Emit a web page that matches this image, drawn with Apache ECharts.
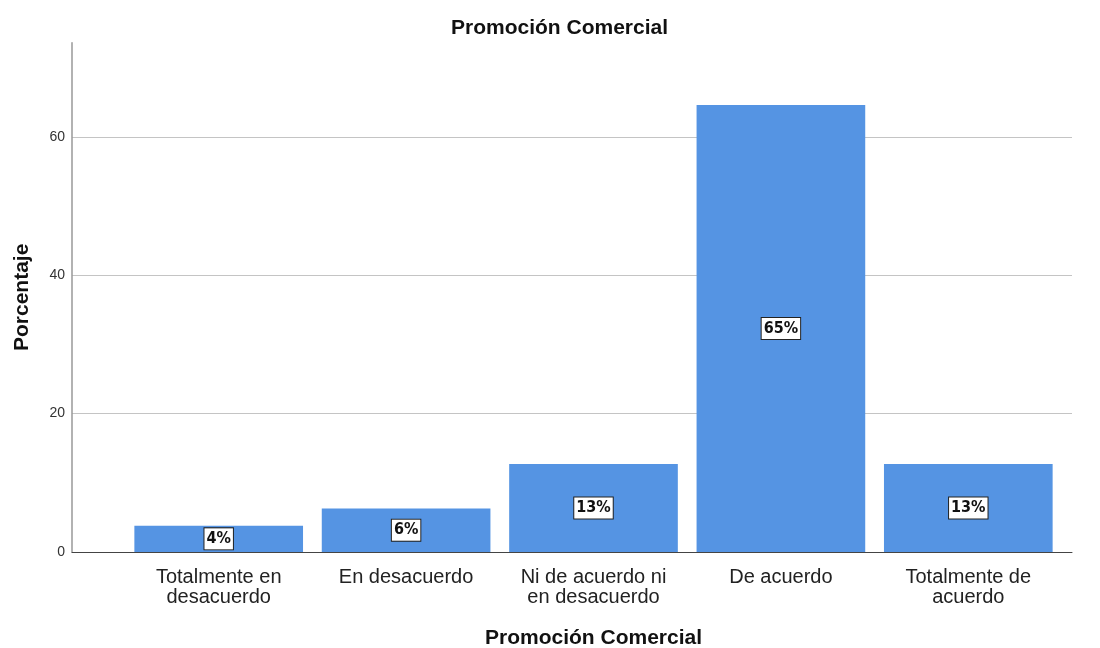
<!DOCTYPE html>
<html><head><meta charset="utf-8">
<script src="https://cdn.jsdelivr.net/npm/echarts@6/dist/echarts.min.js"></script>
<style>html,body{margin:0;padding:0;background:#fff}#c{width:1100px;height:648px}</style>
</head><body><div id="c"></div>
<script>
const categories = ['Totalmente en\ndesacuerdo', 'En desacuerdo', 'Ni de acuerdo ni\nen desacuerdo', 'De acuerdo', 'Totalmente de\nacuerdo'];
const values = [3.8, 6.3, 12.7, 64.6, 12.7];
const labels = ['4%', '6%', '13%', '65%', '13%'];
const yTicks = [0, 20, 40, 60];
const titleText = 'Promoción Comercial';
const xName = 'Promoción Comercial';
const yName = 'Porcentaje';
const yMax = 73.6;

const FONT = 'Liberation Sans, Arial, sans-serif';
const chart = echarts.init(document.getElementById('c'));
chart.setOption({
  animation: false,
  title: {text: titleText, left: 446, top: 13, textStyle: {fontFamily: FONT, fontWeight: 'bold', fontSize: 21, color: '#111'}},
  grid: [
    {left: 72, right: 28, top: 42.7, bottom: 96, outerBoundsMode: 'none', containLabel: false},
    {left: 125, right: 38, top: 42.7, bottom: 96, outerBoundsMode: 'none', containLabel: false}
  ],
  xAxis: [
    {type: 'category', gridIndex: 0, data: [''], axisLine: {show: true, lineStyle: {color: '#444', width: 1}}, axisTick: {show: false}, axisLabel: {show: false}, splitLine: {show: false}},
    {type: 'category', gridIndex: 1, data: categories,
      name: xName, nameLocation: 'middle', nameGap: 76,
      nameTextStyle: {fontFamily: FONT, fontWeight: 'bold', fontSize: 21, color: '#111'},
      axisLine: {show: false}, axisTick: {show: false},
      axisLabel: {interval: 0, margin: 15, fontFamily: FONT, fontSize: 20, lineHeight: 20, color: '#222'}}
  ],
  yAxis: [
    {type: 'value', gridIndex: 0, min: 0, max: yMax, interval: 20,
      name: yName, nameLocation: 'middle', nameGap: 39,
      nameTextStyle: {fontFamily: FONT, fontWeight: 'bold', fontSize: 21, color: '#111'},
      axisLine: {show: true, lineStyle: {color: '#999', width: 1.5}},
      axisTick: {show: false},
      axisLabel: {showMaxLabel: false, margin: 7, fontFamily: FONT, fontSize: 14, color: '#333',
        formatter: v => yTicks.indexOf(v) >= 0 ? String(v) : ''},
      splitLine: {show: true, showMaxLine: false, lineStyle: {color: '#c4c4c4', width: 1}}},
    {type: 'value', gridIndex: 1, min: 0, max: yMax, interval: 20, show: false, splitLine: {show: false}}
  ],
  series: [{
    type: 'bar', xAxisIndex: 1, yAxisIndex: 1, data: values, barCategoryGap: '10%',
    itemStyle: {color: '#5594E3'},
    label: {show: true, position: 'inside', formatter: p => labels[p.dataIndex],
      fontFamily: 'Liberation Sans Narrow, DejaVu Sans Condensed, Arial, sans-serif', fontWeight: 'bold', fontSize: 16, color: '#111',
      backgroundColor: '#fff', borderColor: '#222', borderWidth: 1, padding: [3, 2, 2, 2]}
  }]
});
</script></body></html>
